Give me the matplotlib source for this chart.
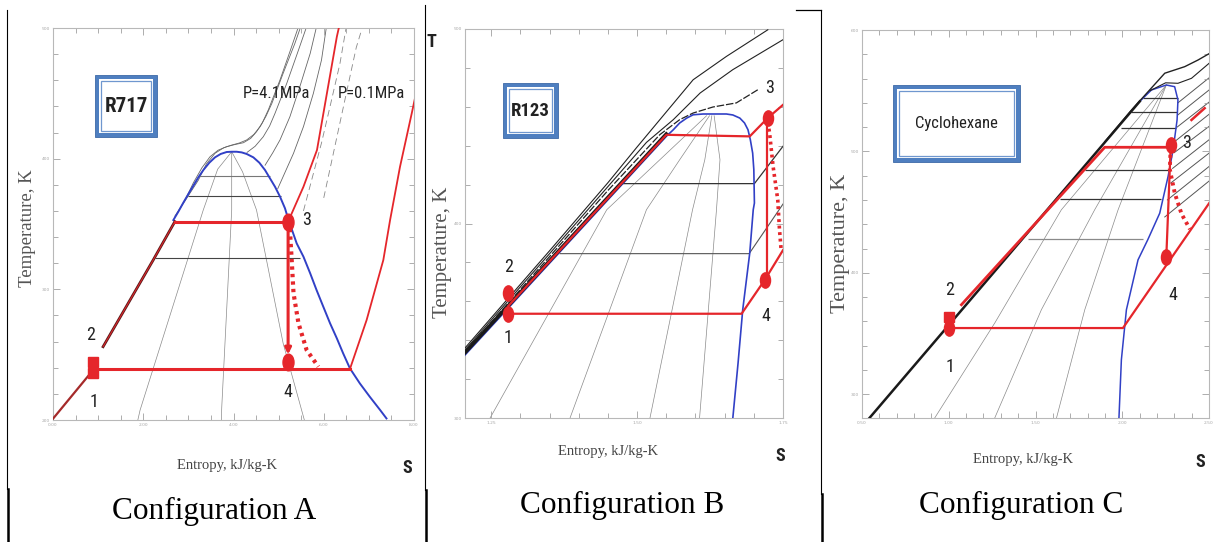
import matplotlib
matplotlib.use("Agg")
import matplotlib.pyplot as plt
from matplotlib import font_manager as fm
from matplotlib.patches import Rectangle
from matplotlib.path import Path
from matplotlib.transforms import Affine2D
from matplotlib.ticker import MultipleLocator


def first_font(names):
    for n in names:
        try:
            fm.findfont(fm.FontProperties(family=n), fallback_to_default=False)
            return n
        except ValueError:
            continue
    return "DejaVu Sans"


NARROW = first_font(["Liberation Sans Narrow", "Roboto Condensed", "DejaVu Sans"])
SERIF = first_font(["Liberation Serif", "DejaVu Serif"])

RED = "#e5262b"
BLUE = "#3140c6"
GRAY = "#8a8a8a"

# ---------------- Configuration A (R717), s in kJ/kg-K, T in K ----------------
A_dome_s = [2.667, 2.777, 2.888, 2.999, 3.110, 3.221, 3.332, 3.464, 3.590, 3.716, 3.849, 3.959,
            4.070, 4.181, 4.292, 4.440, 4.573, 4.698, 4.809, 4.920, 5.031, 5.141, 5.215,
            5.40, 5.55, 5.70, 5.84, 5.99, 6.14, 6.29, 6.43, 6.58, 6.80, 7.02, 7.25, 7.39]
A_dome_T = [353.0, 359.4, 366.3, 372.9, 379.3, 385.7, 391.3, 396.9, 401.0, 403.6, 405.1, 405.3,
            405.3, 404.8, 403.6, 401.0, 396.9, 391.3, 384.9, 378.5, 370.9, 362.0, 353.5,
            335.2, 325.0, 312.2, 299.5, 286.7, 274.0, 262.5, 251.0, 239.5, 228.0, 217.8, 207.6, 201.2]
A_liq1_s = [0.0, 0.89]
A_liq1_T = [201, 238.3]
A_liq2_s = [1.11, 2.22, 2.70]
A_liq2_T = [256.1, 322.4, 351.8]

A_c1_s = [2.75, 2.95, 3.11, 3.30, 3.48, 3.66, 3.85, 4.03, 4.22, 4.38, 4.51, 4.64, 4.77, 5.03, 5.25, 5.44]
A_c1_T = [358, 370, 381.5, 393, 401.5, 406.5, 409.2, 410.8, 412.2, 415.5, 420.6, 427.5, 437.2, 460.2, 481.9, 501]
A_c2_s = [2.70, 2.95, 3.22, 3.40, 3.59, 3.78, 3.96, 4.13, 4.29, 4.45, 4.59, 4.72, 4.85, 5.10, 5.36, 5.49]
A_c2_T = [356, 369, 383.5, 396, 404.1, 408.3, 410.4, 412.0, 414.3, 418.5, 424.5, 432.5, 442.3, 465.3, 488.2, 501]
A_c3_s = [4.30, 4.48, 4.66, 4.80, 4.92, 5.18, 5.44, 5.62]
A_c3_T = [404.8, 409.5, 416.8, 425.0, 434.7, 457.6, 483.1, 501]
A_c4_s = [4.70, 4.87, 5.03, 5.25, 5.47, 5.70, 5.84]
A_c4_T = [395, 404.5, 414.3, 432.1, 455.1, 480.6, 501]
A_c5_s = [4.98, 5.33, 5.55, 5.77, 5.95, 6.06]
A_c5_T = [377, 404.1, 424.5, 450, 475.5, 501]
A_d1_s = [5.55, 5.75, 5.95, 6.14, 6.36, 6.50]
A_d1_T = [360, 386, 412, 440, 473, 501]
A_d2_s = [6.00, 6.25, 6.50, 6.72, 6.86]
A_d2_T = [370, 410, 450, 485, 501]

A_q1_s = [1.88, 1.93, 3.33, 3.65, 3.96]
A_q1_T = [200, 207.6, 360.7, 392, 405.3]
A_q2_s = [3.73, 3.74, 3.96, 3.96]
A_q2_T = [200, 210, 360.7, 405.3]
A_q3_s = [5.57, 5.10, 4.51, 4.20, 3.96]
A_q3_T = [200, 258.7, 360.7, 390, 405.3]

A_hz_T = [386.5, 371.6, 324.0]
A_hz_s0 = [3.22, 3.00, 2.26]
A_hz_s1 = [4.80, 5.05, 5.47]

A_hp_s = [2.70, 5.21]
A_hp_T = [351.8, 351.8]
A_lp_s = [0.89, 6.58]
A_lp_T = [239.0, 239.0]
A_exp_s = [5.21, 5.21]
A_exp_T = [351.8, 248.0]
A_real_s = [5.21, 5.25, 5.29, 5.33, 5.44, 5.62, 5.88]
A_real_T = [351.8, 345.4, 322.4, 297, 274, 253.6, 240.8]
A_p41_s = [5.21, 5.55, 5.85, 6.07, 6.29, 6.34]
A_p41_T = [351.8, 378.5, 406.6, 450, 493.3, 501]
A_p01_s = [6.58, 6.95, 7.32, 7.47, 7.69, 7.95, 8.02]
A_p01_T = [239, 276.5, 322.4, 353, 393.8, 434.7, 446]
A_sq_s = [0.89, 0.89]
A_sq_T = [244.4, 236.0]
A_pt_s = [5.21, 5.21]
A_pt_T = [351.8, 244.6]

# ---------------- Configuration B (R123) ----------------
B_dome_s = [1.205, 1.550, 1.562, 1.573, 1.585, 1.596, 1.613, 1.653, 1.664, 1.676, 1.684, 1.690,
            1.694, 1.698, 1.700, 1.701, 1.699, 1.693, 1.681, 1.673, 1.664]
B_dome_T = [332.4, 444.8, 448.2, 451.7, 454.2, 455.9, 456.3, 456.3, 455.8, 454.2, 451.7, 448.2,
            443.1, 436.2, 427.7, 410.5, 407.1, 384.8, 355.7, 328.3, 300]
B_liq_s = [1.205, 1.55]
B_liq_T = [333.6, 446.0]
B_i1_s = [1.205, 1.35, 1.45, 1.499, 1.539, 1.596, 1.653, 1.724]
B_i1_T = [336, 386, 421, 439, 453.4, 473.9, 485.9, 499.6]
B_i2_s = [1.205, 1.35, 1.45, 1.516, 1.562, 1.608, 1.664, 1.75]
B_i2_T = [335, 384.5, 419, 441.7, 453.4, 467.1, 479.1, 494.5]
B_i3_s = [1.205, 1.35, 1.45, 1.539, 1.573, 1.596, 1.630, 1.670, 1.707]
B_i3_T = [334, 383, 417, 445.7, 453.4, 456.8, 459.9, 462, 468.8]
B_q1_s = [1.248, 1.448, 1.539, 1.619]
B_q1_T = [300, 407.1, 432.8, 455.4]
B_q2_s = [1.385, 1.516, 1.573, 1.624]
B_q2_T = [300, 407.1, 432.8, 455.4]
B_q3_s = [1.522, 1.595, 1.616, 1.628]
B_q3_T = [300, 407.1, 432.8, 455.4]
B_q4_s = [1.607, 1.636, 1.642, 1.632]
B_q4_T = [300, 407.1, 432.8, 455.4]
B_h1_s = [1.476, 1.701, 1.75]
B_h1_T = [420.5, 420.5, 439.7]
B_h2_s = [1.368, 1.692, 1.75]
B_h2_T = [384.5, 384.5, 410]

B_hp_s = [1.279, 1.55, 1.693, 1.724, 1.75]
B_hp_T = [357.5, 445.6, 444.8, 454.3, 461]
B_lp_s = [1.279, 1.679, 1.719, 1.75]
B_lp_T = [353.6, 353.6, 371.1, 386.3]
B_exp_s = [1.722, 1.722]
B_exp_T = [454.3, 371.1]
B_real_s = [1.724, 1.727, 1.733, 1.741, 1.744, 1.747]
B_real_T = [452, 446.5, 429.4, 412.2, 396.8, 385.7]
B_pt_s = [1.279, 1.279, 1.724, 1.719]
B_pt_T = [353.6, 364.3, 454.3, 371.1]

# ---------------- Configuration C (Cyclohexane) ----------------
C_liq_s = [0.543, 2.101]
C_liq_T = [280.4, 541.2]
C_dome_s = [2.101, 2.168, 2.254, 2.302, 2.321, 2.316, 2.293, 2.264, 2.216, 2.147, 2.091, 2.024, 1.995, 1.981]
C_dome_T = [541.2, 550.6, 554.7, 553.3, 542.4, 525.9, 501.2, 479.3, 449.1, 427.2, 410.7, 369.6, 328.4, 280.4]
C_i1_s = [1.90, 2.05, 2.149, 2.245, 2.360, 2.437, 2.504]
C_i1_T = [508, 533.5, 549.2, 564.4, 569.8, 575.3, 580.8]
C_i2_s = [2.16, 2.25, 2.321, 2.399, 2.504]
C_i2_T = [550, 556.5, 556.1, 560.2, 573]
C_sh_s0 = [2.321, 2.320, 2.316, 2.310, 2.300, 2.290, 2.280, 2.260, 2.245]
C_sh_T0 = [540, 530, 520, 509, 499, 486, 474, 460, 446]
C_sh_s1 = [2.504, 2.504, 2.504, 2.504, 2.504, 2.504, 2.504, 2.504, 2.504]
C_sh_T1 = [561, 551, 541, 531, 521, 510, 499, 488, 476]
C_hz_T = [543.8, 532.3, 519.1, 484.8, 460.9, 427.7]
C_hz_s0 = [2.12, 2.048, 1.995, 1.784, 1.640, 1.457]
C_hz_s1 = [2.321, 2.318, 2.312, 2.264, 2.226, 2.120]
C_q1_s = [0.919, 1.265, 1.649, 2.254]
C_q1_T = [280.4, 358.6, 451.9, 554.7]
C_q2_s = [1.265, 1.534, 1.841, 2.254]
C_q2_T = [280.4, 369.6, 451.9, 554.7]
C_q3_s = [1.621, 1.784, 1.976, 2.254]
C_q3_T = [280.4, 369.6, 451.9, 554.7]

C_hp_s = [1.073, 1.899, 2.279]
C_hp_T = [373.7, 503.4, 503.4]
C_lp_s = [1.005, 2.004, 2.504]
C_lp_T = [354.5, 354.5, 458]
C_exp_s = [2.279, 2.254]
C_exp_T = [503.4, 413.4]
C_real_s = [2.279, 2.274, 2.303, 2.342, 2.39]
C_real_T = [503, 485.3, 465.4, 448.4, 436]
C_seg_s = [2.399, 2.475]
C_seg_T = [525.9, 535.6]
C_pt_s = [1.0, 2.279, 2.254]
C_pt_T = [354.5, 505.4, 413.4]
C_sq_s = [1.0]
C_sq_T = [364.0]

ELL = Path.unit_circle().transformed(Affine2D().scale(0.66, 1.0))
DOTS = (0, (0.8, 1.0))


def style_panel(ax, xlim, ylim, xt, xtl, yt, ytl, xminor, yminor):
    ax.set_xlim(xlim)
    ax.set_ylim(ylim)
    ax.set_xticks(xt)
    ax.set_xticklabels(xtl)
    ax.set_yticks(yt)
    ax.set_yticklabels(ytl)
    ax.xaxis.set_minor_locator(MultipleLocator(xminor))
    ax.yaxis.set_minor_locator(MultipleLocator(yminor))
    ax.tick_params(which="both", direction="in", top=True, right=True, color="#a0a0a0", width=0.6)
    ax.tick_params(which="major", length=5, labelsize=3.2, labelcolor="#a8a8a8", pad=2)
    ax.tick_params(which="minor", length=3.5)
    for sp in ax.spines.values():
        sp.set_color("#b8b8b8")
        sp.set_linewidth(0.8)


W, H = 1214, 542
fig = plt.figure(figsize=(W / 100, H / 100), dpi=100, facecolor="white")


def panel(x0, y0, x1, y1):
    return fig.add_axes([x0 / W, 1 - y1 / H, (x1 - x0) / W, (y1 - y0) / H])


# ---- panel A
ax = panel(53, 28, 414, 420)
style_panel(ax, (0, 8), (200, 500), [0, 2, 4, 6, 8], ["0.00", "2.00", "4.00", "6.00", "8.00"],
            [200, 300, 400, 500], ["200", "300", "400", "500"], 0.5, 20)
for s, T in [(A_q1_s, A_q1_T), (A_q2_s, A_q2_T), (A_q3_s, A_q3_T)]:
    ax.plot(s, T, color=GRAY, lw=0.5, zorder=1)
for s, T in [(A_c1_s, A_c1_T), (A_c2_s, A_c2_T), (A_c3_s, A_c3_T), (A_c4_s, A_c4_T), (A_c5_s, A_c5_T)]:
    ax.plot(s, T, color="#666666", lw=0.6, zorder=1)
for s, T in [(A_d1_s, A_d1_T), (A_d2_s, A_d2_T)]:
    ax.plot(s, T, color="#888888", lw=0.6, ls=(0, (8, 5)), zorder=1)
ax.hlines(A_hz_T, A_hz_s0, A_hz_s1, colors=["#777777", "#444444", "#444444"], lw=0.8, zorder=2)
ax.plot(A_dome_s, A_dome_T, color=BLUE, lw=1.4, zorder=3)
ax.plot(A_liq1_s, A_liq1_T, color="#a52a2a", lw=1.6, zorder=3)
ax.plot(A_liq2_s, A_liq2_T, color="#5a1c1c", lw=2.0, zorder=3)
ax.plot(A_liq2_s, A_liq2_T, color=RED, lw=0.7, zorder=3)
ax.plot(A_p41_s, A_p41_T, color=RED, lw=1.3, zorder=3)
ax.plot(A_p01_s, A_p01_T, color=RED, lw=1.3, zorder=3)
ax.plot(A_hp_s, A_hp_T, color=RED, lw=2.2, zorder=4)
ax.plot(A_lp_s, A_lp_T, color=RED, lw=2.2, zorder=4)
ax.annotate("", xy=(A_exp_s[1], A_exp_T[1]), xytext=(A_exp_s[0], A_exp_T[0]),
            arrowprops=dict(arrowstyle="-|>", color=RED, lw=2.2, mutation_scale=9), zorder=4)
ax.plot(A_real_s, A_real_T, color=RED, lw=3.0, ls=DOTS, zorder=4)
ax.plot(A_sq_s, A_sq_T, ls="none", marker="s", ms=7, color=RED, zorder=5)
ax.plot(A_pt_s, A_pt_T, ls="none", marker=ELL, ms=12, color=RED, zorder=5)

# ---- panel B
ax = panel(465, 29, 783, 418)
style_panel(ax, (1.205, 1.75), (300, 500), [1.25, 1.5, 1.75], ["1.25", "1.50", "1.75"],
            [300, 400, 500], ["300", "400", "500"], 0.05, 20)
for s, T in [(B_q1_s, B_q1_T), (B_q2_s, B_q2_T), (B_q3_s, B_q3_T), (B_q4_s, B_q4_T)]:
    ax.plot(s, T, color=GRAY, lw=0.5, zorder=1)
ax.plot(B_h1_s, B_h1_T, color="#333333", lw=0.9, zorder=2)
ax.plot(B_h2_s, B_h2_T, color="#555555", lw=0.8, zorder=2)
ax.plot(B_dome_s, B_dome_T, color=BLUE, lw=1.2, zorder=3)
for s, T in [(B_i1_s, B_i1_T), (B_i2_s, B_i2_T)]:
    ax.plot(s, T, color="#222222", lw=0.8, zorder=3)
ax.plot(B_i3_s, B_i3_T, color="#222222", lw=0.9, ls=(0, (6, 1.5)), zorder=3)
ax.plot(B_liq_s, B_liq_T, color="#1a1a1a", lw=2.6, zorder=3)
ax.plot(B_hp_s, B_hp_T, color=RED, lw=1.6, zorder=4)
ax.plot(B_lp_s, B_lp_T, color=RED, lw=1.6, zorder=4)
ax.plot(B_exp_s, B_exp_T, color=RED, lw=1.6, zorder=4)
ax.plot(B_real_s, B_real_T, color=RED, lw=2.6, ls=DOTS, zorder=4)
ax.plot(B_pt_s, B_pt_T, ls="none", marker=ELL, ms=11, color=RED, zorder=5)

# ---- panel C
ax = panel(862, 30, 1209, 418)
style_panel(ax, (0.5, 2.5), (280.4, 600), [0.5, 1.0, 1.5, 2.0, 2.5],
            ["0.50", "1.00", "1.50", "2.00", "2.50"],
            [300, 400, 500, 600], ["300", "400", "500", "600"], 0.1, 20)
for s, T in [(C_q1_s, C_q1_T), (C_q2_s, C_q2_T), (C_q3_s, C_q3_T)]:
    ax.plot(s, T, color=GRAY, lw=0.5, zorder=1)
for s0, T0, s1, T1 in zip(C_sh_s0, C_sh_T0, C_sh_s1, C_sh_T1):
    ax.plot([s0, s1], [T0, T1], color="#555555", lw=0.7, zorder=1)
ax.hlines(C_hz_T, C_hz_s0, C_hz_s1, colors=["#333333"] * 5 + ["#8a8a8a"], lw=0.9, zorder=2)
ax.plot(C_dome_s, C_dome_T, color=BLUE, lw=1.1, zorder=3)
ax.plot(C_i1_s, C_i1_T, color="#222222", lw=1.0, zorder=3)
ax.plot(C_i2_s, C_i2_T, color="#222222", lw=0.8, zorder=3)
ax.plot(C_liq_s, C_liq_T, color="#1a1a1a", lw=1.8, zorder=3)
ax.plot(C_hp_s, C_hp_T, color=RED, lw=2.0, zorder=4)
ax.plot(C_lp_s, C_lp_T, color=RED, lw=1.6, zorder=4)
ax.plot(C_exp_s, C_exp_T, color=RED, lw=1.6, zorder=4)
ax.plot(C_seg_s, C_seg_T, color=RED, lw=1.8, zorder=4)
ax.plot(C_real_s, C_real_T, color=RED, lw=2.8, ls=DOTS, zorder=4)
ax.plot(C_sq_s, C_sq_T, ls="none", marker="s", ms=7.5, color=RED, zorder=5)
ax.plot(C_pt_s, C_pt_T, ls="none", marker=ELL, ms=11, color=RED, zorder=5)

# ---- overlay in pixel coordinates: frames, boxes, labels
ov = fig.add_axes([0, 0, 1, 1], zorder=10)
ov.set_xlim(0, W)
ov.set_ylim(H, 0)
ov.axis("off")
ov.patch.set_alpha(0)

# separators
ov.plot([7, 7], [10, 489], color="black", lw=0.8)
ov.plot([7.5, 7.5], [489, 542], color="black", lw=1.8)
ov.plot([425, 425], [5, 490], color="black", lw=0.8)
ov.plot([425.5, 425.5], [490, 542], color="black", lw=1.8)
ov.plot([796, 821], [10, 10], color="black", lw=0.9)
ov.plot([821, 821], [10, 494], color="black", lw=0.8)
ov.plot([821.5, 821.5], [494, 542], color="black", lw=1.8)


def label_box(x0, y0, x1, y1, text, **kw):
    ov.add_patch(Rectangle((x0, y0), x1 - x0, y1 - y0, facecolor="#4f7fc0", edgecolor="#3d6aa8", lw=0.6))
    ov.add_patch(Rectangle((x0 + 4, y0 + 4), x1 - x0 - 8, y1 - y0 - 8, facecolor="white", edgecolor="none"))
    ov.add_patch(Rectangle((x0 + 6, y0 + 6), x1 - x0 - 12, y1 - y0 - 12, facecolor="white",
                           edgecolor="#6f97cf", lw=0.9))
    ov.text((x0 + x1) / 2, (y0 + y1) / 2, text, ha="center", va="center", color="#222222", **kw)


label_box(95, 75, 157, 137, "R717", family=NARROW, fontsize=15, fontweight="bold")
label_box(503, 83, 558, 138, "R123", family=NARROW, fontsize=13.5, fontweight="bold")
label_box(893, 85, 1020, 162, "Cyclohexane", family=NARROW, fontsize=12)

ov.text(276.7, 94, "P=4.1MPa", ha="center", va="center", family=NARROW, fontsize=12, color="#222222")
ov.text(371.7, 94, "P=0.1MPa", ha="center", va="center", family=NARROW, fontsize=12, color="#222222")

num_kw = dict(ha="center", va="center", family=NARROW, fontsize=13, color="#222222")
for x, y, t in [(306.7, 220, "3"), (288.3, 391.7, "4"), (90.7, 335, "2"), (94.3, 401.7, "1"),
                (770, 88.3, "3"), (766, 316, "4"), (508.3, 266.7, "2"), (508.3, 338.3, "1"),
                (1186.7, 143.3, "3"), (1173.3, 295, "4"), (950, 290, "2"), (950, 366.7, "1")]:
    ov.text(x, y, t, **num_kw)

ov.text(431, 42, "T", ha="center", va="center", family=NARROW, fontsize=13, fontweight="bold", color="#222222")
for x, y in [(406.7, 468), (780, 456), (1200, 462)]:
    ov.text(x, y, "S", ha="center", va="center", family=NARROW, fontsize=13, fontweight="bold", color="#222222")

for x, y in [(226.7, 465), (607.5, 451), (1023, 460)]:
    ov.text(x, y, "Entropy, kJ/kg-K", ha="center", va="center", family=SERIF, fontsize=10.5, color="#444444")
for x, y, fs in [(28, 228, 13.5), (442, 252, 15), (840, 243, 16)]:
    ov.text(x, y, "Temperature, K", ha="center", va="center", rotation=90, family=SERIF,
            fontsize=fs, color="#555555")

for x, y, t in [(214, 511, "Configuration A"), (621.7, 505, "Configuration B"), (1021.5, 505, "Configuration C")]:
    ov.text(x, y, t, ha="center", va="center", family=SERIF, fontsize=22.5, color="black")

fig.savefig("out.png", dpi=100, facecolor="white")
